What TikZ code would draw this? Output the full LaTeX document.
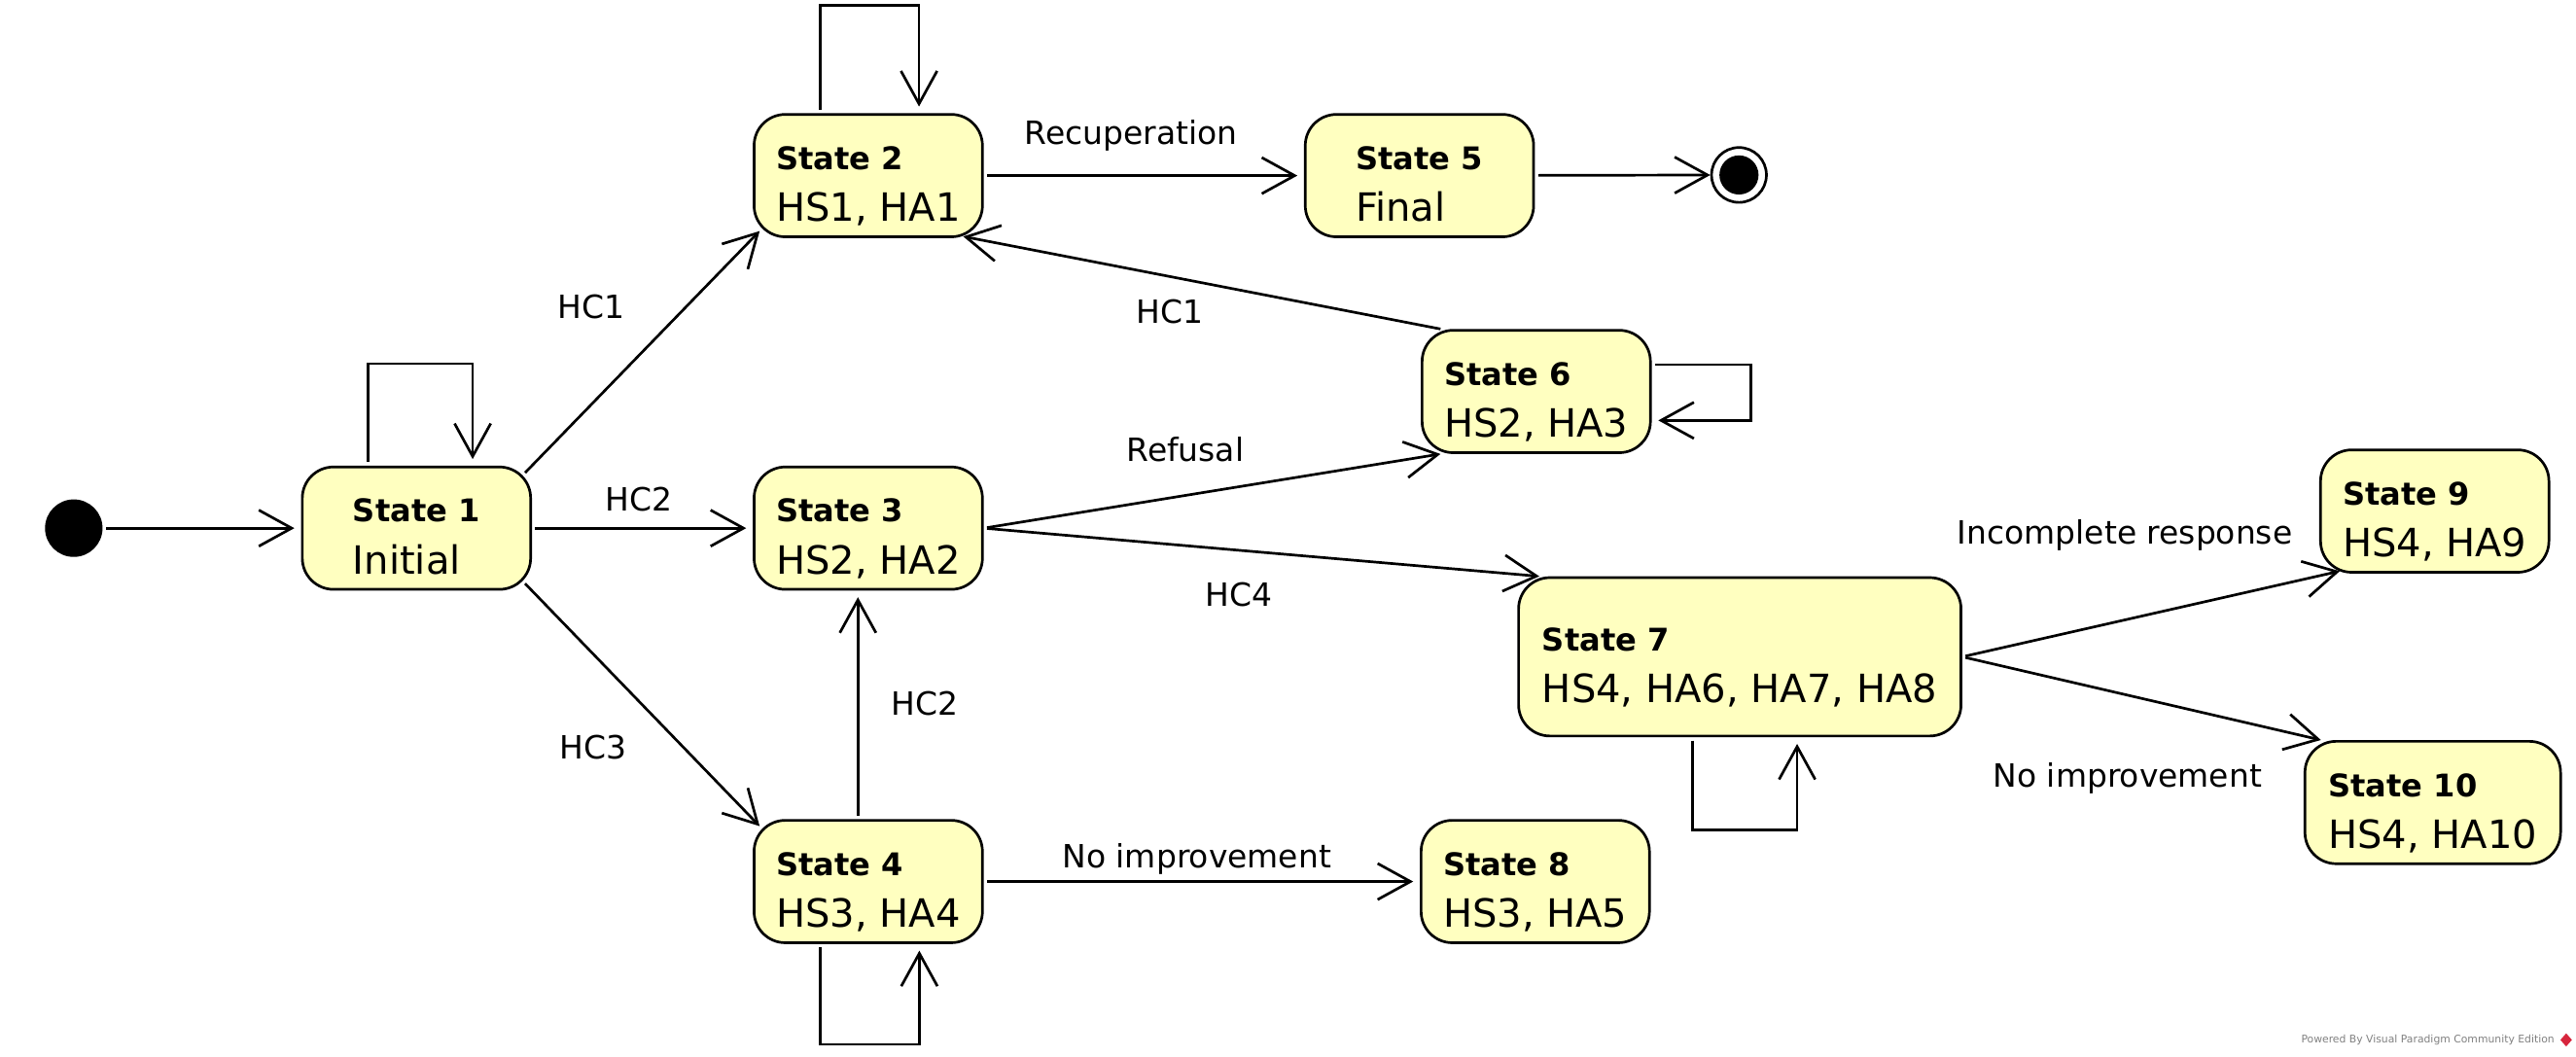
\documentclass[tikz,border=0pt]{standalone}
\usepackage{fontspec}
\setmainfont{DejaVu Sans}
\usetikzlibrary{arrows.meta, calc}
\definecolor{stateyellow}{HTML}{FFFFC0}
\definecolor{wmgray}{HTML}{808080}
\definecolor{wmred}{HTML}{D7263D}
\newcommand{\statetext}[2]{\raisebox{0pt}[14pt][21.4pt]{\vtop{\baselineskip=31.7pt
  \hbox{\fontsize{19}{22}\selectfont\bfseries #1}\hbox{\fontsize{23.7}{28}\selectfont #2}}}}

\begin{document}
\begin{tikzpicture}[x=1pt, y=-1pt,
    state/.style={draw, line width=1.6pt, fill=stateyellow, rounded corners=19pt,
      minimum width=139pt, minimum height=74.5pt, inner sep=0pt},
    edge/.style={->, line width=1.6pt, shorten <=2pt, shorten >=4pt},
    lbl/.style={font=\fontsize{19.5}{23}\selectfont, inner sep=0pt},
    >={Straight Barb[length=20pt, width=22pt]}
  ]
  \useasboundingbox (0,0) rectangle (1568,643);

  % states
  \node[circle, fill=black, minimum size=35pt, inner sep=0pt] (init) at (44.9,321.5) {};
  \node[state] (s1) at (253.5,321.5) {\statetext{State 1}{Initial}};
  \node[state] (s2) at (528.5,106.9) {\statetext{State 2}{HS1, HA1}};
  \node[state] (s3) at (528.5,321.5) {\statetext{State 3}{HS2, HA2}};
  \node[state] (s4) at (528.5,536.6) {\statetext{State 4}{HS3, HA4}};
  \node[state] (s5) at (864,106.9) {\statetext{State 5}{Final}};
  \node[state] (s6) at (935.1,238.3) {\statetext{State 6}{HS2, HA3}};
  \node[state, minimum width=269.3pt, minimum height=96.4pt] (s7) at (1059,399.8)
    {\statetext{State 7}{HS4, HA6, HA7, HA8}};
  \node[state] (s8) at (934.5,536.6) {\statetext{State 8}{HS3, HA5}};
  \node[state] (s9) at (1482,311.1) {\statetext{State 9}{HS4, HA9}};
  \node[state, minimum width=155.6pt] (s10) at (1480.8,488.5) {\statetext{State 10}{HS4, HA10}};
  \node[circle, draw, line width=1.6pt, fill=white, minimum size=33.4pt, inner sep=0pt,
    path picture={\fill[black] (path picture bounding box.center) circle (11.9pt);}]
    (final) at (1058.5,106.5) {};

  % labels
  \node[lbl] (hc1a) at (360,187) {HC1};
  \node[lbl] (hc2a) at (389,304) {HC2};
  \node[lbl] (hc3) at (361,455) {HC3};
  \node[lbl] (recup) at (688.4,82.4) {Recuperation};
  \node[lbl] (hc1b) at (712,190) {HC1};
  \node[lbl] (refusal) at (721.5,273.7) {Refusal};
  \node[lbl] (hc4) at (754,362) {HC4};
  \node[lbl] (hc2b) at (563,428) {HC2};
  \node[lbl] (noimpa) at (728.5,523) {No improvement};
  \node[lbl] (incomp) at (1293.4,326) {Incomplete response};
  \node[lbl] (noimpb) at (1295,474) {No improvement};

  % transitions
  \draw[edge] (init) -- (s1);
  \draw[edge, shorten <=-6pt, shorten >=-6pt] (s1.north east) -- (s2.south west);
  \draw[edge] (s1) -- (s3);
  \draw[edge, shorten <=-6pt, shorten >=-6pt] (s1.south east) -- (s4.north west);
  \draw[edge] (s2) -- (s5);
  \draw[edge, shorten >=0pt] (s5) -- (final);
  \draw[edge, shorten <=0pt, shorten >=0pt] ([xshift=12pt]s6.north west)
    -- ([xshift=-12.5pt, yshift=1pt]s2.south east);
  \draw[edge, shorten >=0pt] (s3.east) -- ([xshift=12pt]s6.south west);
  \draw[edge, shorten >=0pt] (s3.east) -- ([xshift=13.4pt]s7.north west);
  \draw[edge] ([xshift=-6.3pt]s4.north) -- ([xshift=-6.3pt]s3.south);
  \draw[edge] (s4) -- (s8);
  \draw[edge, shorten >=0pt] (s7.east) -- ([xshift=12.5pt, yshift=1.5pt]s9.south west);
  \draw[edge, shorten >=0pt] (s7.east) -- ([xshift=10.5pt]s10.north west);

  % self loops
  \draw[edge] ([xshift=-29.3pt]s1.north) -- ++(0,-62) -| ([xshift=34.2pt]s1.north);
  \draw[edge] ([xshift=-29.4pt]s2.north) -- ++(0,-65.6) -| ([xshift=30.9pt]s2.north);
  \draw[edge] ([xshift=-29.1pt]s4.south) -- ++(0,61) -| ([xshift=31.1pt]s4.south);
  \draw[edge] ([yshift=16.3pt]s6.east) -- ++(60.5,0) |- ([yshift=-17.6pt]s6.east);
  \draw[edge] ([xshift=-28.9pt]s7.south) -- ++(0,56.6) -| ([xshift=34.9pt]s7.south);

  % watermark
  \node[font=\fontsize{6.4}{7}\selectfont, text=wmgray, inner sep=0pt, anchor=east]
    (wm) at (1555,633) {Powered By Visual Paradigm Community Edition};
  \fill[wmred] (1562,629) -- (1565.5,633) -- (1562,637) -- (1558.5,633) -- cycle;
\end{tikzpicture}
\end{document}
